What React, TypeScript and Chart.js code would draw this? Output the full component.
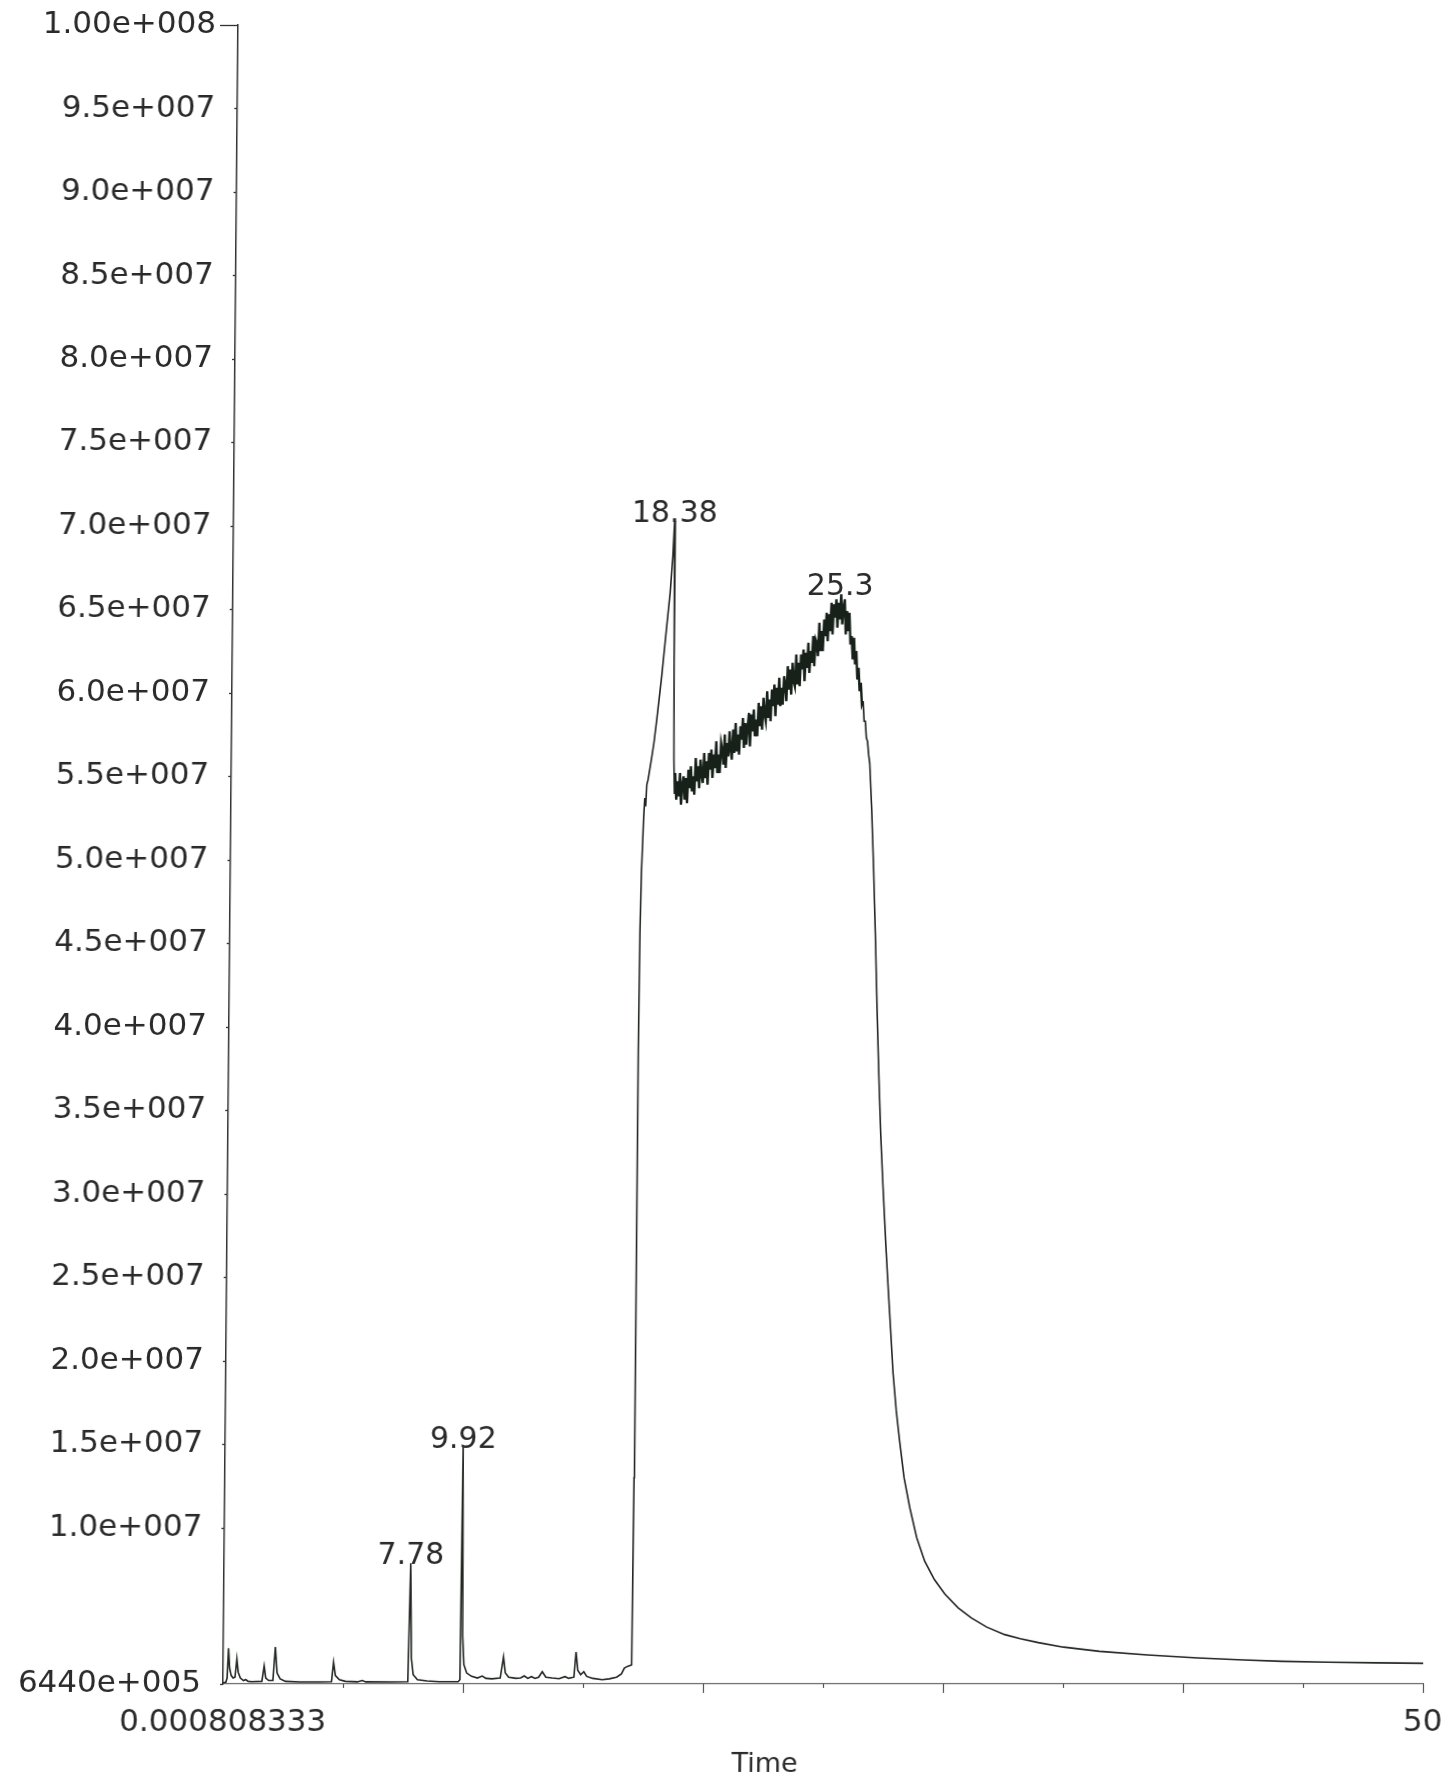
import React, { useEffect, useRef } from 'react';
import { Chart, registerables } from 'chart.js';

Chart.register(...registerables);

// ---- Data (time in minutes, intensity in millions of counts) ----
const earlyTimes = [
  0.0008, 0.12, 0.17, 0.22, 0.27, 0.34, 0.42, 0.5, 0.57, 0.63, 0.72, 0.85, 0.95, 1.05, 1.2,
  1.62, 1.71, 1.78, 1.9, 2.08, 2.17, 2.25, 2.38, 2.6, 3.2, 4.0, 4.52, 4.6, 4.68, 4.85, 5.1,
  5.6, 5.8, 5.95, 7.0, 7.7, 7.78, 7.84, 7.92, 8.1, 8.5, 9.0, 9.8, 9.87, 9.92, 9.97, 10.03,
  10.15, 10.35, 10.6, 10.8, 10.95, 11.2, 11.55, 11.68, 11.76, 11.9, 12.2, 12.4, 12.55, 12.7,
  12.85, 13.0, 13.15, 13.3, 13.45, 13.7, 14.0, 14.25, 14.4, 14.62, 14.7, 14.78, 14.9, 15.03,
  15.15, 15.4, 15.8, 16.1, 16.4, 16.6, 16.72, 16.85, 17.02,
];
const earlyValuesM = [
  0.72, 0.75, 1.0, 2.78, 1.6, 1.15, 1.0, 1.05, 2.14, 1.35, 1.0, 0.85, 0.9, 0.8, 0.78,
  0.8, 1.72, 1.0, 0.85, 0.85, 2.86, 1.3, 0.95, 0.8, 0.76, 0.76, 0.78, 1.94, 1.15, 0.9, 0.8,
  0.77, 0.85, 0.77, 0.76, 0.78, 7.87, 2.2, 1.2, 0.9, 0.82, 0.78, 0.78, 0.9, 14.85, 3.5, 1.8,
  1.3, 1.1, 1.0, 1.12, 0.98, 0.95, 1.0, 2.26, 1.3, 1.05, 0.98, 1.0, 1.12, 0.98,
  1.08, 0.98, 1.05, 1.38, 1.05, 1.0, 0.96, 1.08, 0.98, 1.05, 2.56, 1.45, 1.2, 1.38,
  1.1, 0.98, 0.9, 0.95, 1.05, 1.25, 1.6, 1.7, 1.78,
];

const riseTimes = [
  17.05, 17.06, 17.07, 17.09, 17.13, 17.2, 17.24, 17.28, 17.32, 17.37, 17.5, 17.6, 17.71,
  17.9, 18.09, 18.22, 18.32, 18.38, 18.41, 18.44, 18.47,
];
const riseValuesM = [
  13.0, 27.5, 38.4, 45.7, 49.3, 52.5, 53.7, 53.2, 54.5, 54.8, 56.0, 57.0, 58.4,
  61.0, 64.0, 66.0, 68.2, 70.3, 62.0, 56.0, 54.0,
];

// noisy plateau, sampled every 0.05 min from 18.50 to 26.60
const plateauTimes = [
  18.5, 18.55, 18.6, 18.65, 18.7, 18.75, 18.8, 18.85, 18.9, 18.95,
  19.0, 19.05, 19.1, 19.15, 19.2, 19.25, 19.3, 19.35, 19.4, 19.45,
  19.5, 19.55, 19.6, 19.65, 19.7, 19.75, 19.8, 19.85, 19.9, 19.95,
  20.0, 20.05, 20.1, 20.15, 20.2, 20.25, 20.3, 20.35, 20.4, 20.45,
  20.5, 20.55, 20.6, 20.65, 20.7, 20.75, 20.8, 20.85, 20.9, 20.95,
  21.0, 21.05, 21.1, 21.15, 21.2, 21.25, 21.3, 21.35, 21.4, 21.45,
  21.5, 21.55, 21.6, 21.65, 21.7, 21.75, 21.8, 21.85, 21.9, 21.95,
  22.0, 22.05, 22.1, 22.15, 22.2, 22.25, 22.3, 22.35, 22.4, 22.45,
  22.5, 22.55, 22.6, 22.65, 22.7, 22.75, 22.8, 22.85, 22.9, 22.95,
  23.0, 23.05, 23.1, 23.15, 23.2, 23.25, 23.3, 23.35, 23.4, 23.45,
  23.5, 23.55, 23.6, 23.65, 23.7, 23.75, 23.8, 23.85, 23.9, 23.95,
  24.0, 24.05, 24.1, 24.15, 24.2, 24.25, 24.3, 24.35, 24.4, 24.45,
  24.5, 24.55, 24.6, 24.65, 24.7, 24.75, 24.8, 24.85, 24.9, 24.95,
  25.0, 25.05, 25.1, 25.15, 25.2, 25.25, 25.3, 25.35, 25.4, 25.45,
  25.5, 25.55, 25.6, 25.65, 25.7, 25.75, 25.8, 25.85, 25.9, 25.95,
  26.0, 26.05, 26.1, 26.15, 26.2, 26.25, 26.3, 26.35, 26.4, 26.45,
  26.5, 26.55, 26.6,
];
const plateauValuesM = [
  55.2, 53.6, 54.7, 53.8, 55.2, 53.3, 54.5, 55.0, 53.6, 54.9,
  53.4, 55.4, 54.3, 55.6, 54.1, 55.0, 53.9, 56.1, 54.7, 55.6,
  54.3, 56.0, 55.1, 54.6, 56.4, 54.9, 55.9, 54.5, 56.4, 55.4,
  56.6, 54.9, 56.3, 55.5, 57.1, 55.2, 56.3, 55.2, 57.0, 56.6,
  55.7, 57.5, 55.5, 57.0, 56.2, 57.7, 56.6, 56.0, 57.8, 56.4,
  58.2, 56.5, 57.5, 56.3, 58.0, 57.2, 58.5, 56.7, 58.2, 56.9,
  58.0, 58.8, 56.8, 58.7, 57.7, 59.0, 57.4, 58.4, 57.4, 59.4,
  58.0, 59.2, 57.8, 59.7, 58.7, 58.3, 60.1, 58.5, 59.6, 58.3,
  60.2, 59.2, 60.5, 58.6, 60.3, 59.3, 60.9, 59.2, 60.3, 59.3,
  61.0, 60.5, 59.5, 61.6, 60.2, 61.4, 59.9, 61.8, 60.7, 60.4,
  62.3, 60.5, 61.8, 60.4, 62.3, 61.4, 62.6, 60.7, 62.4, 61.5,
  63.0, 61.2, 62.5, 61.8, 63.4, 61.6, 63.2, 63.0, 62.2, 64.2,
  62.5, 63.7, 62.5, 64.4, 63.4, 64.8, 63.1, 64.7, 63.7, 65.4,
  63.5, 65.3, 64.5, 65.6, 63.9, 65.4, 64.4, 65.9, 64.1, 65.1,
  65.6, 63.5, 64.9, 63.7, 64.8, 62.9, 63.4, 62.0, 63.3, 61.7,
  62.5, 60.8, 61.5, 60.1, 60.6, 59.3, 59.5, 58.3, 58.3, 57.3,
  57.1, 56.3, 55.8,
];

const tailTimes = [
  26.7, 26.8, 26.9, 27.0, 27.1, 27.2, 27.31, 27.45, 27.56, 27.7, 27.8, 27.95, 28.1, 28.3,
  28.55, 28.85, 29.19, 29.6, 30.04, 30.6, 31.15, 31.8, 32.55, 33.2, 33.95, 35.0, 36.5, 38.5,
  40.6, 42.5, 44.1, 46.0, 48.0, 50.0,
];
const tailValuesM = [
  53.0, 49.5, 45.5, 41.0, 37.0, 33.5, 30.5, 27.0, 24.5, 21.5, 19.3, 17.0, 15.2, 13.0,
  11.2, 9.4, 8.0, 6.9, 6.03, 5.2, 4.6, 4.05, 3.6, 3.35, 3.12, 2.85, 2.6, 2.38,
  2.2, 2.08, 2.0, 1.95, 1.91, 1.88,
];

const yMin = 644000;
const yMax = 100000000;
const yTickValues = [
  644000, 1.0e7, 1.5e7, 2.0e7, 2.5e7, 3.0e7, 3.5e7, 4.0e7, 4.5e7, 5.0e7, 5.5e7, 6.0e7, 6.5e7,
  7.0e7, 7.5e7, 8.0e7, 8.5e7, 9.0e7, 9.5e7, 1.0e8,
];
const yTickLabels = [
  '6440e+005', '1.0e+007', '1.5e+007', '2.0e+007', '2.5e+007', '3.0e+007', '3.5e+007',
  '4.0e+007', '4.5e+007', '5.0e+007', '5.5e+007', '6.0e+007', '6.5e+007', '7.0e+007',
  '7.5e+007', '8.0e+007', '8.5e+007', '9.0e+007', '9.5e+007', '1.00e+008',
];
const xMin = 0.000808333;
const xMax = 50;
const xTickValues = [0.000808333, 5, 10, 15, 20, 25, 30, 35, 40, 45, 50];
const xTickLabels = ['0.000808333', '', '', '', '', '', '', '', '', '', '50'];
const xTitle = 'Time';

const peakTimes = [7.78, 9.92, 18.38, 25.3];
const peakLabels = ['7.78', '9.92', '18.38', '25.3'];

const FONT = '"DejaVu Sans", "Liberation Sans", sans-serif';
const TEXT_COLOR = '#2a2a2a';

const allTimes = [...earlyTimes, ...riseTimes, ...plateauTimes, ...tailTimes];
const allValues = [...earlyValuesM, ...riseValuesM, ...plateauValuesM, ...tailValuesM].map(
  (v) => v * 1e6
);
const noisyStart = plateauTimes[0];
const noisyEnd = plateauTimes[plateauTimes.length - 1];

const decorPlugin = {
  id: 'decor',
  afterDraw(chart: any) {
    const { ctx, chartArea, scales } = chart;
    const xs = scales.x;
    const ys = scales.y;
    ctx.save();
    // y ticks
    ctx.strokeStyle = '#333';
    ctx.lineWidth = 1.3;
    yTickValues.forEach((v) => {
      const py = Math.round(ys.getPixelForValue(v)) + 0.5;
      const len = v === yMax ? 18 : 3;
      ctx.beginPath();
      ctx.moveTo(chartArea.left - len, py);
      ctx.lineTo(chartArea.left, py);
      ctx.stroke();
    });
    // x ticks
    ctx.strokeStyle = '#555';
    ctx.lineWidth = 1.2;
    xTickValues.forEach((v, i) => {
      if (i === 0) return;
      const px = Math.round(xs.getPixelForValue(v)) + 0.5;
      const len = v % 10 === 0 ? 9 : 4;
      ctx.beginPath();
      ctx.moveTo(px, chartArea.bottom);
      ctx.lineTo(px, chartArea.bottom + len);
      ctx.stroke();
    });
    // peak labels
    ctx.fillStyle = TEXT_COLOR;
    ctx.font = `30px ${FONT}`;
    ctx.textAlign = 'center';
    ctx.textBaseline = 'alphabetic';
    peakTimes.forEach((t, i) => {
      let best = -Infinity;
      allTimes.forEach((tt, j) => {
        if (Math.abs(tt - t) <= 0.12 && allValues[j] > best) best = allValues[j];
      });
      ctx.fillText(peakLabels[i], xs.getPixelForValue(t), ys.getPixelForValue(best) + 1);
    });
    // axis title
    ctx.font = `27px ${FONT}`;
    ctx.textBaseline = 'middle';
    ctx.fillText(xTitle, chartArea.left + chartArea.width * 0.452, chartArea.bottom + 81);
    ctx.restore();
  },
};

export default function App() {
  const ref = useRef<HTMLCanvasElement | null>(null);

  useEffect(() => {
    if (!ref.current) return;
    const data = allTimes.map((t, i) => ({ x: t, y: allValues[i] }));
    const chart = new Chart(ref.current, {
      type: 'line',
      data: {
        datasets: [
          {
            label: 'TIC',
            data,
            borderColor: '#222722',
            borderWidth: 1.6,
            pointRadius: 0,
            tension: 0,
            fill: false,
            segment: {
              borderWidth: (c: any) =>
                c.p0.parsed.x >= noisyStart && c.p1.parsed.x <= noisyEnd - 0.3 ? 2.4 : undefined,
              borderColor: (c: any) =>
                c.p0.parsed.x >= noisyStart && c.p1.parsed.x <= noisyEnd ? '#17211a' : undefined,
            },
          },
        ],
      },
      options: {
        animation: false,
        responsive: false,
        devicePixelRatio: 1,
        layout: { padding: { top: 25, right: 26, left: 0, bottom: 0 } },
        plugins: {
          legend: { display: false },
          tooltip: { enabled: false },
        },
        scales: {
          x: {
            type: 'linear',
            min: xMin,
            max: xMax,
            afterBuildTicks: (s: any) => {
              s.ticks = xTickValues.map((v) => ({ value: v }));
            },
            afterFit: (s: any) => {
              s.height = 97;
              s.paddingLeft = 0;
              s.paddingRight = 0;
            },
            ticks: {
              autoSkip: false,
              maxRotation: 0,
              minRotation: 0,
              padding: 20,
              color: TEXT_COLOR,
              font: { family: FONT, size: 31 },
              callback: (_v: any, i: number) => xTickLabels[i] ?? '',
            },
            grid: { display: false, drawTicks: false },
            border: { display: true, color: '#6f6f6f', width: 1.2 },
          },
          y: {
            type: 'linear',
            min: yMin,
            max: yMax,
            afterBuildTicks: (s: any) => {
              s.ticks = yTickValues.map((v) => ({ value: v }));
            },
            afterFit: (s: any) => {
              s.width = 223;
              s.paddingTop = 0;
              s.paddingBottom = 0;
            },
            ticks: {
              autoSkip: false,
              padding: 22,
              color: TEXT_COLOR,
              font: { family: FONT, size: 31 },
              callback: (_v: any, i: number) => yTickLabels[i] ?? '',
            },
            grid: { display: false, drawTicks: false },
            border: { display: true, color: '#333', width: 1.5 },
          },
        },
      },
      plugins: [decorPlugin],
    });
    return () => chart.destroy();
  }, []);

  return (
    <div
      style={{
        position: 'absolute',
        left: 0,
        top: 0,
        width: 1449,
        height: 1781,
        background: '#ffffff',
        overflow: 'hidden',
      }}
    >
      <canvas
        ref={ref}
        width={1449}
        height={1781}
        style={{
          display: 'block',
          width: 1449,
          height: 1781,
          transform: 'skewX(-0.52deg)',
          transformOrigin: '0px 1684px',
        }}
      />
    </div>
  );
}
